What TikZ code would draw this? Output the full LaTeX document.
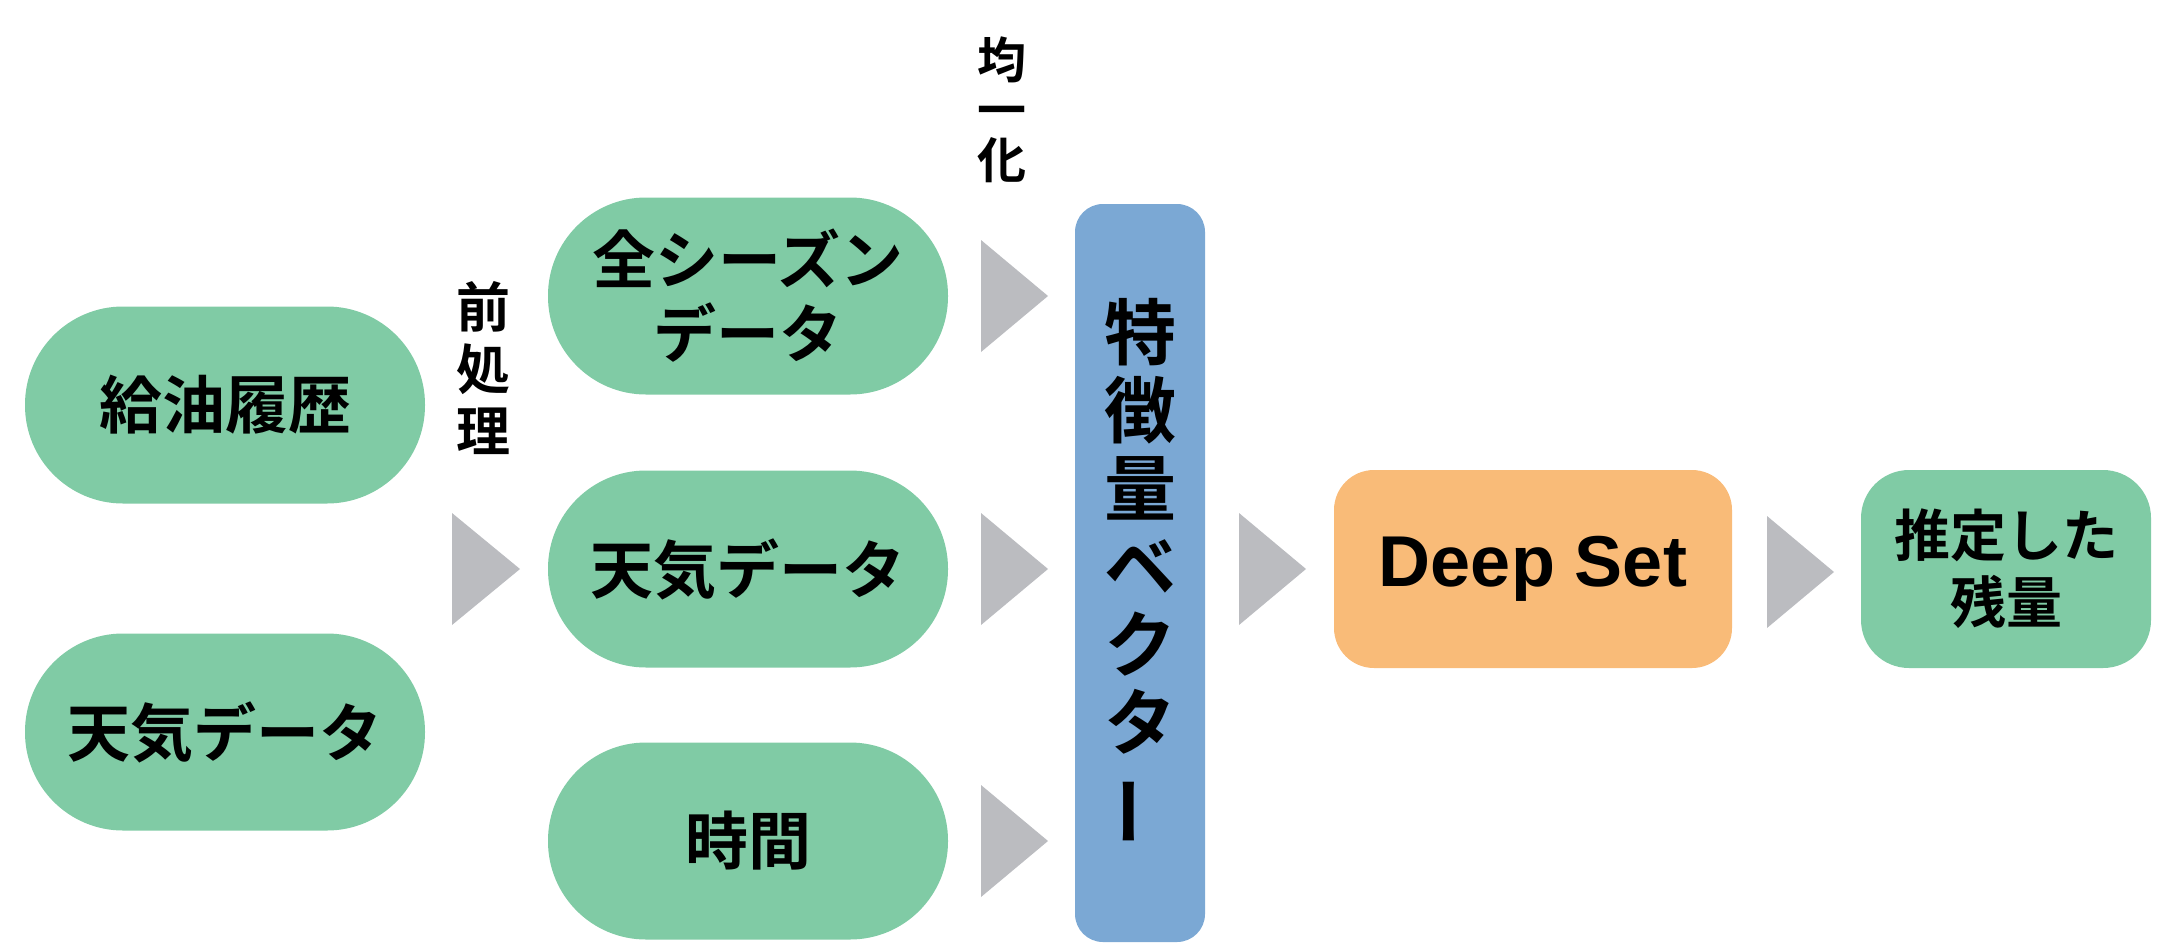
\documentclass[tikz,border=0pt]{standalone}
\usepackage{fontspec}
\usepackage{graphicx}
\newfontfamily\jp{Noto Sans CJK JP}[UprightFont=* Bold]
\newfontfamily\lat{Liberation Sans}[UprightFont=* Bold]
\definecolor{pgreen}{RGB}{128,203,165}
\definecolor{pblue}{RGB}{123,168,212}
\definecolor{porange}{RGB}{249,187,120}
\definecolor{agray}{RGB}{187,188,192}
\newcommand{\vbar}{\rotatebox[origin=c]{90}{ー}}
\begin{document}
\begin{tikzpicture}[x=1pt,y=-1pt]
\tikzset{
  pill/.style={fill=pgreen, rounded corners=98pt, minimum width=400pt, minimum height=197pt,
    inner sep=0pt, align=center, font=\jp\fontsize{63}{74}\selectfont},
  vlabel/.style={inner sep=0pt, align=center},
  arrowfill/.style={fill=agray, draw=none},
}
\useasboundingbox (0,0) rectangle (2176,943);

% input nodes
\node[pill] (kyuyu) at (225,405) {給油履歴};
\node[pill] (tenki1) at (225,732) {天気データ};
% preprocessed nodes
\node[pill] (season) at (748,296) {全シーズン\\データ};
\node[pill] (tenki2) at (748,569) {天気データ};
\node[pill] (jikan) at (748,841) {時間};
% feature vector
\node[fill=pblue, rounded corners=28pt, minimum width=130pt, minimum height=738pt, inner sep=0pt,
  align=center, font=\jp\fontsize{72}{78}\selectfont] (feat) at (1140,573)
  {特\\徴\\量\\ベ\\ク\\タ\\\vbar};
% deep set
\node[fill=porange, rounded corners=40pt, minimum width=398pt, minimum height=198pt, inner sep=0pt,
  font=\lat\fontsize{72}{80}\selectfont] (deep) at (1533,569) {Deep Set};
% output
\node[fill=pgreen, rounded corners=48pt, minimum width=290pt, minimum height=198pt, inner sep=0pt,
  align=center, font=\jp\fontsize{56}{67}\selectfont] (out) at (2006,569) {推定した\\残量};

% labels
\node[vlabel, font=\jp\fontsize{54}{62}\selectfont] (mae) at (483,368) {前\\処\\理};
\node[vlabel, font=\jp\fontsize{49}{50}\selectfont] (kin) at (1002,110) {均\\一\\化};

% arrow positions
\coordinate (a1) at (486,569);
\coordinate (a2) at (1014,296);
\coordinate (a3) at (1014,569);
\coordinate (a4) at (1014,841);
\coordinate (a5) at (1272,569);
\coordinate (a6) at (1800,572);

\foreach \c in {a1}{
  \fill[arrowfill] (\c) ++(-34,-56) -- ++(68,56) -- ++(-68,56) -- cycle;
}
\foreach \c in {a2,a3,a4,a5,a6}{
  \fill[arrowfill] (\c) ++(-33,-56) -- ++(67,56) -- ++(-67,56) -- cycle;
}
\end{tikzpicture}
\end{document}
